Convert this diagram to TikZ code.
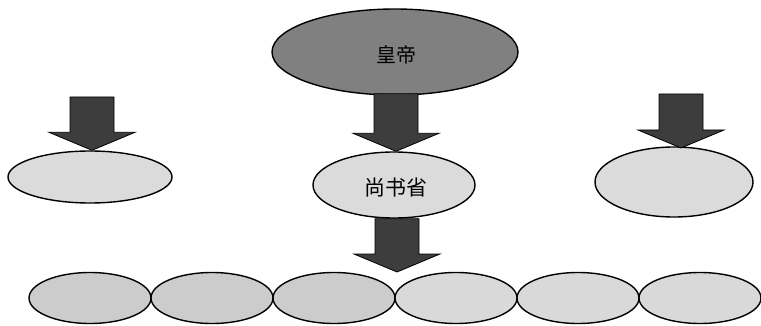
\documentclass[tikz,border=0pt]{standalone}
\usepackage{fontspec}
\newfontfamily\cjk{Noto Sans CJK SC}
\usetikzlibrary{shapes.geometric,calc}
\definecolor{empfill}{gray}{0.50}
\definecolor{arrfill}{gray}{0.24}
\definecolor{lightfill}{gray}{0.86}
\definecolor{rowdark}{gray}{0.80}
\definecolor{rowlight}{gray}{0.85}
\tikzset{
  oval/.style={ellipse, draw=black, line width=1.4pt, inner sep=0pt},
  blockarr/.style={draw=black, line width=0.8pt, fill=arrfill, line join=miter},
  cjktext/.style={font=\cjk\fontsize{20}{20}\selectfont}
}
\newcommand\myblockarrow[2]{%
  \draw[blockarr] ($(#1)+(-22,0)$) -- ($(#1)+(22,0)$) -- ($(#2)+(22,-18)$) --
    ($(#2)+(43,-18)$) -- (#2) -- ($(#2)+(-43,-18)$) -- ($(#2)+(-22,-18)$) -- cycle;}
\begin{document}
\begin{tikzpicture}[x=1pt,y=-1pt]
\useasboundingbox (0,0) rectangle (761,326);
% main ellipses
\node[oval, fill=empfill, minimum width=246, minimum height=86] (emp) at (395,52) {};
\node[cjktext] (emptxt) at (396,55) {皇帝};
\node[oval, fill=lightfill, minimum width=162, minimum height=66] (shang) at (394,185) {};
\node[cjktext, font=\cjk\fontsize{21}{21}\selectfont] (shangtxt) at (396,188) {尚书省};
\node[oval, fill=lightfill, minimum width=164, minimum height=52] (left) at (90,177) {};
\node[oval, fill=lightfill, minimum width=158, minimum height=70] (right) at (674,182) {};
% bottom row
\node[oval, fill=rowdark, minimum width=122, minimum height=51] (b1) at (90,298) {};
\node[oval, fill=rowdark, minimum width=122, minimum height=51] (b2) at (212,298) {};
\node[oval, fill=rowdark, minimum width=122, minimum height=51] (b3) at (334,298) {};
\node[oval, fill=rowlight, minimum width=122, minimum height=51] (b4) at (456,298) {};
\node[oval, fill=rowlight, minimum width=122, minimum height=51] (b5) at (578,298) {};
\node[oval, fill=rowlight, minimum width=122, minimum height=51] (b6) at (700,298) {};
% arrow anchors
\coordinate (t1) at ($(emp.south)+(1,-2)$);
\coordinate (p1) at ($(shang.north)+(2,0)$);
\coordinate (t2) at ($(shang.south)+(3,0)$);
\coordinate (p2) at (397,272);
\coordinate (tl) at (92,97);
\coordinate (pl) at ($(left.north)+(2,0)$);
\coordinate (tr) at (681,94);
\coordinate (pr) at (681,148);
% block arrows
\myblockarrow{t1}{p1}
\myblockarrow{t2}{p2}
\myblockarrow{tl}{pl}
\myblockarrow{tr}{pr}
\end{tikzpicture}
\end{document}
